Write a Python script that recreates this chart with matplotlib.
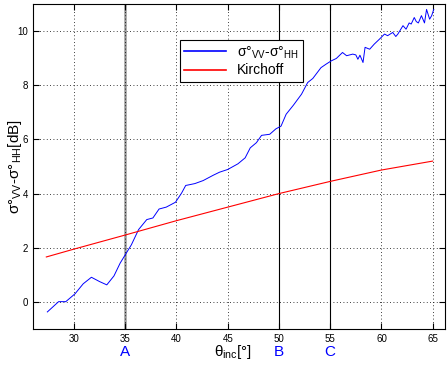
import matplotlib
matplotlib.use('Agg')
import matplotlib.pyplot as plt

plt.rcParams['font.family'] = ['Liberation Sans', 'DejaVu Sans']
plt.rcParams['mathtext.fontset'] = 'custom'
plt.rcParams['mathtext.rm'] = 'Liberation Sans'
plt.rcParams['mathtext.it'] = 'Liberation Sans'

# sigma VV - sigma HH difference (dB) vs incidence angle
theta_meas = [27.4, 28.5, 29.2, 30.1, 30.9, 31.7, 32.5, 33.2, 33.9, 34.5,
              35.0, 35.6, 36.3, 37.1, 37.7, 38.3, 39.0, 39.9, 40.5, 40.9,
              41.3, 41.8, 42.6, 43.6, 44.2, 45.0, 46.0, 46.7, 47.2, 47.8,
              48.3, 49.1, 49.7, 50.2, 50.7, 51.4, 52.2, 52.8, 53.3, 54.1,
              54.6, 55.1, 55.6, 56.2, 56.6, 57.2, 57.5, 57.7, 57.9, 58.2,
              58.4, 58.85, 59.3, 59.8, 60.3, 60.6, 61.1, 61.4, 61.6, 62.1,
              62.4, 62.7, 62.9, 63.2, 63.4, 63.6, 63.9, 64.2, 64.4, 64.7,
              64.9, 65.1]
diff_meas = [-0.37, 0.01, 0.01, 0.3, 0.67, 0.91, 0.75, 0.63, 0.96, 1.43,
             1.74, 2.11, 2.67, 3.04, 3.1, 3.43, 3.5, 3.68, 4.02, 4.3,
             4.33, 4.37, 4.48, 4.68, 4.79, 4.89, 5.1, 5.32, 5.69, 5.88,
             6.15, 6.19, 6.39, 6.49, 6.93, 7.26, 7.67, 8.1, 8.25, 8.65,
             8.78, 8.9, 8.99, 9.21, 9.09, 9.15, 9.12, 8.96, 9.11, 8.84,
             9.4, 9.33, 9.52, 9.7, 9.89, 9.83, 9.95, 9.8, 9.89, 10.2,
             10.07, 10.3, 10.26, 10.5, 10.35, 10.3, 10.57, 10.3, 10.8, 10.44,
             10.57, 10.8]

# Kirchhoff model
theta_kir = [27.3, 30, 35, 40, 45, 50, 55, 60, 65]
diff_kir = [1.66, 1.95, 2.47, 3.0, 3.5, 4.0, 4.45, 4.87, 5.2]

marks = [35, 50, 55]
mark_labels = ['A', 'B', 'C']

fig = plt.figure(figsize=(4.48, 3.65), dpi=100)
ax = fig.add_axes([33 / 448, 1 - 329 / 365, 412 / 448, 325 / 365])

ax.plot(theta_meas, diff_meas, color='blue', lw=0.7,
        label=r'$\sigma$°$_{VV}$-$\sigma$°$_{HH}$')
ax.plot(theta_kir, diff_kir, color='red', lw=0.8, label='Kirchoff')

ax.axvline(marks[0], color='#999999', lw=1.8, zorder=0.5)
for m in marks[1:]:
    ax.axvline(m, color='black', lw=0.8, zorder=0.5)

ax.set_xlim(26, 66.2)
ax.set_ylim(-1, 11)
ax.set_xticks(range(30, 66, 5))
ax.set_yticks(range(0, 11, 2))
ax.tick_params(direction='in', top=True, right=True, labelsize=7, length=4)
ax.grid(True, color='black', linestyle=(0, (1, 3)), lw=0.6)

trans = ax.get_xaxis_transform()
for m, lab in zip(marks, mark_labels):
    ax.text(m, -0.072, lab, color='blue', fontsize=11, ha='center', va='center',
            transform=trans)
ax.text(45.5, -0.072, r'$\theta_{inc}$[°]', fontsize=11, ha='center', va='center',
        transform=trans)

ax.set_ylabel(r'$\sigma$°$_{VV}$-$\sigma$°$_{HH}$[dB]', fontsize=11)
ax.yaxis.set_label_coords(-9 / 412, 0.5)

leg = ax.legend(loc='upper left', bbox_to_anchor=(0.357, 0.889), fontsize=10,
                fancybox=False, edgecolor='black', framealpha=1,
                handlelength=3, borderpad=0.3, labelspacing=0.2,
                borderaxespad=0)
leg.get_frame().set_linewidth(0.8)
for h in leg.get_lines():
    h.set_linewidth(1.2)

plt.savefig('out.png', dpi=100)
plt.close()
